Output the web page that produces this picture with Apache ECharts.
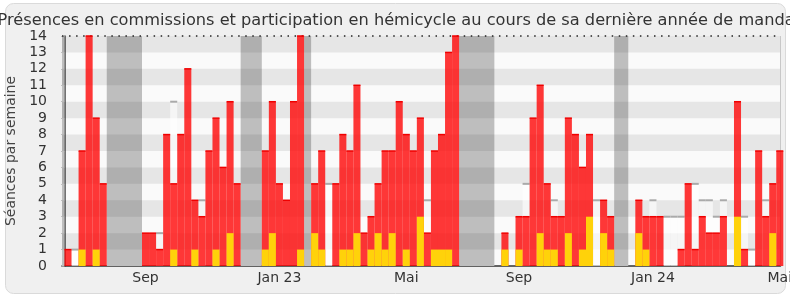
<!DOCTYPE html>
<html><head><meta charset="utf-8">
<script src="https://cdn.jsdelivr.net/npm/echarts@6/dist/echarts.min.js"></script>
<style>html,body{margin:0;padding:0;background:#fff}#c{width:790px;height:300px}</style>
</head><body><div id="c"></div>
<script>
// ---- data (one entry per week, week index 0..101) ----
const titleText = 'Présences en commissions et participation en hémicycle au cours de sa dernière année de mandat';
const yAxisName = 'Séances par semaine';
const commission = [
  1,0,7,14,9,5,0,0,0,0,0,2,2,1,8,5,8,12,4,3,
  7,9,6,10,5,0,0,0,7,10,5,4,10,14,0,5,7,0,5,8,
  7,11,2,3,5,7,7,10,8,7,9,2,7,8,13,14,0,0,0,0,
  0,0,2,0,3,3,9,11,5,3,3,9,8,6,8,0,4,3,0,0,
  0,4,3,3,3,0,0,1,5,1,3,2,2,3,0,10,1,0,7,3,
  5,7];
const hemicycle = [
  0,0,1,0,1,0,0,0,0,0,0,0,0,0,0,1,0,0,1,0,
  0,1,0,2,0,0,0,0,1,2,0,0,0,1,0,2,1,0,0,1,
  1,2,0,1,2,1,2,0,1,0,3,0,1,1,1,0,0,0,0,0,
  0,0,1,0,1,0,0,2,1,1,0,2,0,1,3,0,2,1,0,0,
  0,2,1,0,0,0,0,0,0,0,0,0,0,0,0,3,0,0,0,0,
  2,0];
const median = [
  null,1,null,null,null,null,null,null,null,null,null,null,null,2,null,10,null,null,null,4,
  null,null,null,null,null,null,null,null,null,null,null,null,null,null,null,null,null,5,null,null,
  null,null,null,null,null,null,null,null,null,null,null,4,null,null,null,null,null,null,null,null,
  null,null,null,null,null,5,null,null,null,4,null,null,null,null,null,4,null,null,null,null,
  null,null,null,4,null,3,3,3,null,5,4,4,3,4,null,null,3,1,null,4,
  null,null];
// vacation periods [first week, end week) ; -1 = week before the first shown
const vacations = [[-1,0],[6,11],[25,28],[34,35],[56,61],[78,80]];
const tickWeeks = [11,30,48,64,83,101];
const tickLabels = ['Sep','Jan 23','Mai','Sep','Jan 24','Mai'];
const yMax = 14;

// ---- layout ----
const xMin = -0.35, xMax = 101.6;
const grid = {left: 62, right: 9.5, top: 36, bottom: 34};
const bw = (790 - grid.left - grid.right) / (xMax - xMin);
const FONT = 'DejaVu Sans';

const pts = (arr, keep) => arr.map((v,i) => [i + 0.5, v]).filter(p => p[1] != null && keep(p[1]));
const stripes = [];
for (let v = 1; v < yMax; v += 2) stripes.push([{yAxis: v}, {yAxis: v + 1}]);
const vacAreas = vacations.map(([a,b]) => [{xAxis: Math.max(a, xMin)}, {xAxis: Math.min(b, xMax)}]);
const labelPos = tickWeeks.map(w => w + 0.5);

const chart = echarts.init(document.getElementById('c'), null, {renderer: 'canvas'});
chart.setOption({
  animation: false,
  backgroundColor: 'transparent',
  textStyle: {fontFamily: FONT},
  graphic: [{type: 'rect', z: -100, silent: true,
    shape: {x: 5.5, y: 3.5, width: 780, height: 290, r: 8},
    style: {fill: '#f0f0f0', stroke: '#dadada', lineWidth: 1}}],
  title: {text: titleText, left: -2.5, top: 13, padding: 0,
    textStyle: {fontFamily: FONT, fontSize: 16.2, fontWeight: 'normal', color: '#333'}},
  grid: Object.assign({containLabel: false, outerBoundsMode: 'none', show: true,
    backgroundColor: '#fafafa', borderWidth: 0}, grid),
  xAxis: {type: 'value', min: xMin, max: xMax,
    splitLine: {show: false}, axisTick: {show: false},
    axisLine: {show: true, lineStyle: {color: '#333', width: 1.5}},
    axisLabel: {customValues: labelPos, fontSize: 14, color: '#333', fontFamily: FONT, margin: 5,
      formatter: v => { const i = labelPos.findIndex(p => Math.abs(p - v) < 1e-6); return i >= 0 ? tickLabels[i] : ''; }}},
  yAxis: {type: 'value', min: 0, max: yMax, interval: 1,
    name: yAxisName, nameLocation: 'middle', nameRotate: 90, nameGap: 43,
    nameTextStyle: {fontFamily: FONT, fontSize: 14, color: '#444'},
    splitLine: {show: false},
    axisTick: {show: true, length: 3, lineStyle: {color: '#999'}},
    axisLine: {show: true, lineStyle: {color: '#444', width: 1.5}},
    axisLabel: {fontSize: 14, color: '#333', fontFamily: FONT, margin: 15}},
  series: [
    {type: 'line', data: [], z: 1, silent: true,
      markArea: {silent: true, itemStyle: {color: '#bebebe', opacity: 1}, data: vacAreas}},
    {type: 'line', data: [], z: 2, silent: true,
      markArea: {silent: true, itemStyle: {color: 'rgba(0,0,0,0.08)', opacity: 1}, data: stripes}},
    {type: 'bar', name: 'médiane', data: pts(median, v => v > 0), barWidth: bw, barGap: '-100%', z: 3,
      itemStyle: {color: 'rgba(255,255,255,0.6)'}, silent: true},
    {type: 'scatter', data: pts(median, v => v > 0), symbol: 'rect', symbolSize: [bw, 2], z: 4,
      itemStyle: {color: '#aaaaaa', opacity: 1}, silent: true},
    {type: 'bar', name: 'commission', data: pts(commission, v => v > 0), barWidth: bw, barGap: '-100%', z: 5,
      itemStyle: {color: 'rgba(255,0,0,0.78)'}, silent: true},
    {type: 'scatter', data: pts(commission, v => v > 0), symbol: 'rect', symbolSize: [bw, 1.5], z: 6,
      itemStyle: {color: '#f00000', opacity: 1}, silent: true},
    {type: 'bar', name: 'hémicycle', data: pts(hemicycle, v => v > 0), barWidth: bw, barGap: '-100%', z: 7,
      itemStyle: {color: '#ffd20a'}, silent: true},
    {type: 'line', data: [], z: 8, silent: true,
      markLine: {silent: true, symbol: 'none', label: {show: false},
        data: [
          {yAxis: yMax, lineStyle: {color: '#222', width: 1.5, type: [1.5, bw - 1.5]}},
          {xAxis: xMax, lineStyle: {color: '#c8c8c8', width: 1, type: 'solid'}}
        ]}}
  ]
});
</script></body></html>
